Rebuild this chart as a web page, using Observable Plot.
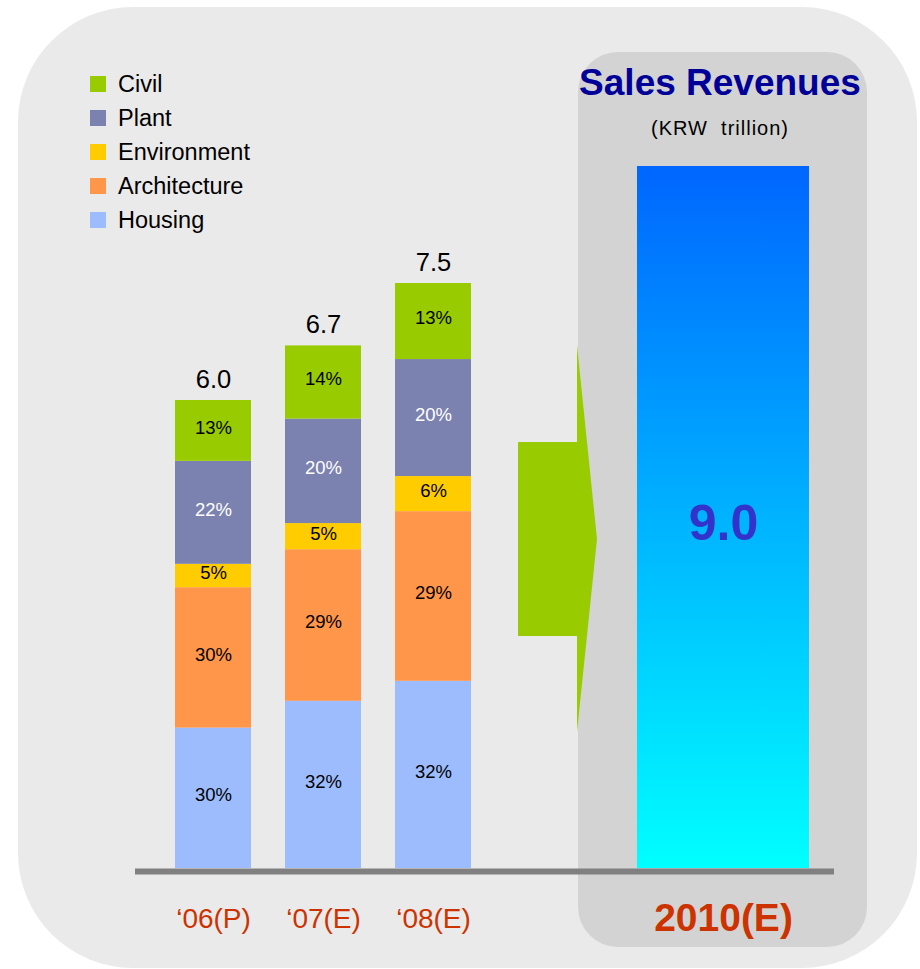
<!DOCTYPE html>
<html><head><meta charset="utf-8">
<script src="https://cdn.jsdelivr.net/npm/d3@7"></script>
<script src="https://cdn.jsdelivr.net/npm/@observablehq/plot@0.6"></script>
<style>
body{margin:0;background:#fff;font-family:"Liberation Sans",Arial,sans-serif;}
#wrap{position:relative;width:920px;height:969px;overflow:hidden;}
.bg{position:absolute;left:18px;top:7px;width:899px;height:961px;border-radius:115px;background:#eaeaea;}
.panel{position:absolute;left:578px;top:52px;width:289px;height:895px;border-radius:40px;background:#d3d3d3;}
.layer{position:absolute;left:0;top:0;}
#title{position:absolute;left:570px;width:300px;top:64px;text-align:center;font-weight:bold;font-size:37px;line-height:37px;color:#000099;white-space:nowrap;}
#subtitle{position:absolute;left:570px;width:300px;top:118px;text-align:center;font-size:20px;line-height:20px;color:#000;white-space:pre;letter-spacing:1px;}
#legend{position:absolute;left:90px;top:67px;}
#legend .row{display:flex;align-items:center;height:34px;}
#legend .sw{width:16px;height:16px;margin-right:12px;}
#legend .lb{font-size:23.5px;color:#000;}
</style></head>
<body>
<div id="wrap">
  <div class="bg"></div>
  <div class="panel"></div>
  <svg class="layer" width="920" height="969"><polygon points="518,442 577,442 577,345 597,539 577,732 577,636 518,636" fill="#99cc00"/></svg>
  <div id="plotA" class="layer"></div>
  <div id="plotB" class="layer"></div>
  <div id="title"></div>
  <div id="subtitle"></div>
  <div id="legend"></div>
</div>
<script>
// ---- data ----
const years = ["\u201806(P)", "\u201807(E)", "\u201808(E)"];
const totals = [6.0, 6.7, 7.5];
const sectors = ["Housing", "Architecture", "Environment", "Plant", "Civil"]; // bottom to top
const housing = [30, 32, 32];
const architecture = [30, 29, 29];
const environment = [5, 5, 6];
const plant = [22, 20, 20];
const civil = [13, 14, 13];
const forecastYear = "2010(E)";
const forecastTotal = 9.0;
const titleText = "Sales Revenues";
const unitText = "(KRW  trillion)";

// ---- styles ----
const sectorColors = ["#9cbcfd", "#ff964a", "#ffcc00", "#7c82b0", "#99cc00"];
const font = "'Liberation Sans', Arial, sans-serif";

const shares = [housing, architecture, environment, plant, civil];
const rows = years.flatMap((year, i) => sectors.map((sector, j) => ({
  year, sector, pct: shares[j][i], value: totals[i] * shares[j][i] / 100
})));
const totalRows = years.map((year, i) => ({year, total: totals[i]}));
const forecastRows = [{year: forecastYear, total: forecastTotal}];

const yScale = {domain: [0, 9], range: [868, 166], axis: null};
const pctLabel = (white) => Plot.text(rows, Plot.stackY({
  x: "year", y: "value", z: "sector",
  text: d => ((d.sector === "Plant") === white ? d.pct + "%" : ""),
  fill: white ? "white" : "black", fontSize: 18.5, dy: -3
}));

const plotA = Plot.plot({
  width: 920, height: 969,
  marginLeft: 135, marginRight: 86, marginTop: 0, marginBottom: 101,
  style: {background: "transparent", fontFamily: font, overflow: "visible"},
  x: {type: "band", domain: years, range: [141, 505], padding: 0.309, axis: null},
  y: yScale,
  color: {domain: sectors, range: sectorColors},
  marks: [
    Plot.barY(rows, {x: "year", y: "value", fill: "sector"}),
    pctLabel(false),
    pctLabel(true),
    Plot.text(totalRows, {x: "year", y: "total", text: d => d.total.toFixed(1), fontSize: 25.5, fill: "black", dy: -21}),
    Plot.text(totalRows, {x: "year", y: d => 0, text: "year", fontSize: 28, fill: "#cc3300", dy: 51}),
    Plot.ruleY([0], {stroke: "#808080", strokeWidth: 6, dy: 3})
  ]
});
document.getElementById("plotA").appendChild(plotA);

const plotB = Plot.plot({
  width: 920, height: 969,
  marginLeft: 0, marginRight: 0, marginTop: 0, marginBottom: 101,
  style: {background: "transparent", fontFamily: font, overflow: "visible"},
  x: {type: "band", domain: [forecastYear], range: [637, 809], padding: 0, axis: null},
  y: yScale,
  marks: [
    () => {
      const defs = d3.create("svg:defs");
      const g = defs.append("linearGradient").attr("id", "revGrad")
        .attr("x1", 0).attr("y1", 0).attr("x2", 0).attr("y2", 1);
      g.append("stop").attr("offset", "0%").attr("stop-color", "#0066ff");
      g.append("stop").attr("offset", "100%").attr("stop-color", "#00ffff");
      return defs.node();
    },
    Plot.barY(forecastRows, {x: "year", y: "total", fill: "url(#revGrad)"}),
    Plot.text(forecastRows, {x: "year", y: d => d.total / 2, text: d => d.total.toFixed(1),
      fontSize: 50, fontWeight: "bold", fill: "#3333cc", dy: 6}),
    Plot.text(forecastRows, {x: "year", y: d => 0, text: "year", fontSize: 39, fontWeight: "bold", fill: "#cc3300", dy: 50})
  ]
});
document.getElementById("plotB").appendChild(plotB);

document.getElementById("title").textContent = titleText;
document.getElementById("subtitle").textContent = unitText;

const legend = document.getElementById("legend");
sectors.slice().reverse().forEach(s => {
  const row = document.createElement("div"); row.className = "row";
  const sw = document.createElement("div"); sw.className = "sw";
  sw.style.background = sectorColors[sectors.indexOf(s)];
  const lb = document.createElement("div"); lb.className = "lb"; lb.textContent = s;
  row.appendChild(sw); row.appendChild(lb); legend.appendChild(row);
});
</script>
</body></html>
